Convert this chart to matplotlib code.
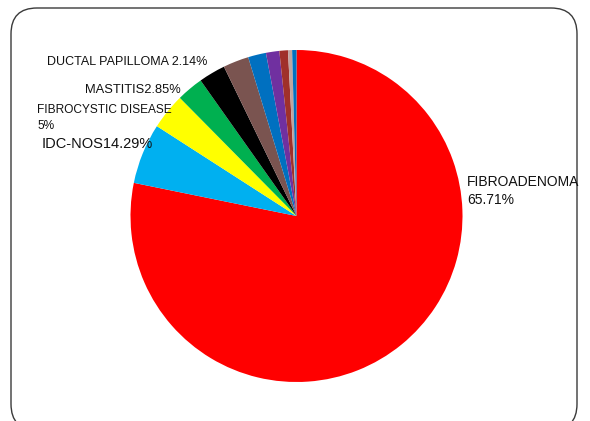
import matplotlib
matplotlib.use("Agg")
import matplotlib.pyplot as plt
from matplotlib.patches import FancyBboxPatch

# slice shares as drawn (percent of circle)
categories = ["FIBROADENOMA", "IDC-NOS", "FIBROCYSTIC DISEASE", "MASTITIS", "OTHER 1",
              "DUCTAL PAPILLOMA", "OTHER 2", "OTHER 3", "OTHER 4", "OTHER 5", "OTHER 6"]
values = [78.2, 5.9, 3.5, 2.6, 2.6, 2.5, 1.75, 1.3, 0.83, 0.4, 0.42]
colors = ["#FF0000", "#00B0F0", "#FFFF00", "#00B050", "#000000", "#7A5450",
          "#0070C0", "#7030A0", "#A0302A", "#C0A4A0", "#0070C0"]

# label texts as printed
label_texts = ["FIBROADENOMA\n65.71%", "IDC-NOS14.29%", "FIBROCYSTIC DISEASE\n5%",
               "MASTITIS2.85%", "DUCTAL PAPILLOMA 2.14%"]

W, H = 590, 421
fig = plt.figure(figsize=(W / 100, H / 100), dpi=100)
fig.patch.set_facecolor("white")

# rounded frame (pixel coordinates)
frame = FancyBboxPatch((11, -9), 566, 422, boxstyle="round,pad=0,rounding_size=26",
                       transform=None, facecolor="none", edgecolor="#3a3a3a", linewidth=1.0)
fig.patches.append(frame)

cx, cy, r = 296.5, 216, 166
ax = fig.add_axes([(cx - r) / W, (H - cy - r) / H, 2 * r / W, 2 * r / H])
ax.pie(values, colors=colors, startangle=90, counterclock=False,
       wedgeprops=dict(linewidth=0))
ax.set_xlim(-1, 1)
ax.set_ylim(-1, 1)
ax.set_aspect("equal")
ax.axis("off")

font = dict(family=["Liberation Sans", "DejaVu Sans"], color="#111111")

def put(x, y, s, size, **kw):
    fig.text(x / W, 1 - y / H, s, fontsize=size, va="center", ha="left", **font, **kw)

put(467, 191, label_texts[0], 10.0, linespacing=1.35)
put(42, 144, label_texts[1], 10.5)
put(37, 118, label_texts[2], 8.6, linespacing=1.5)
put(85, 90, label_texts[3], 9.3)
put(47, 62, label_texts[4], 9.0)

fig.savefig("out.png", dpi=100)
